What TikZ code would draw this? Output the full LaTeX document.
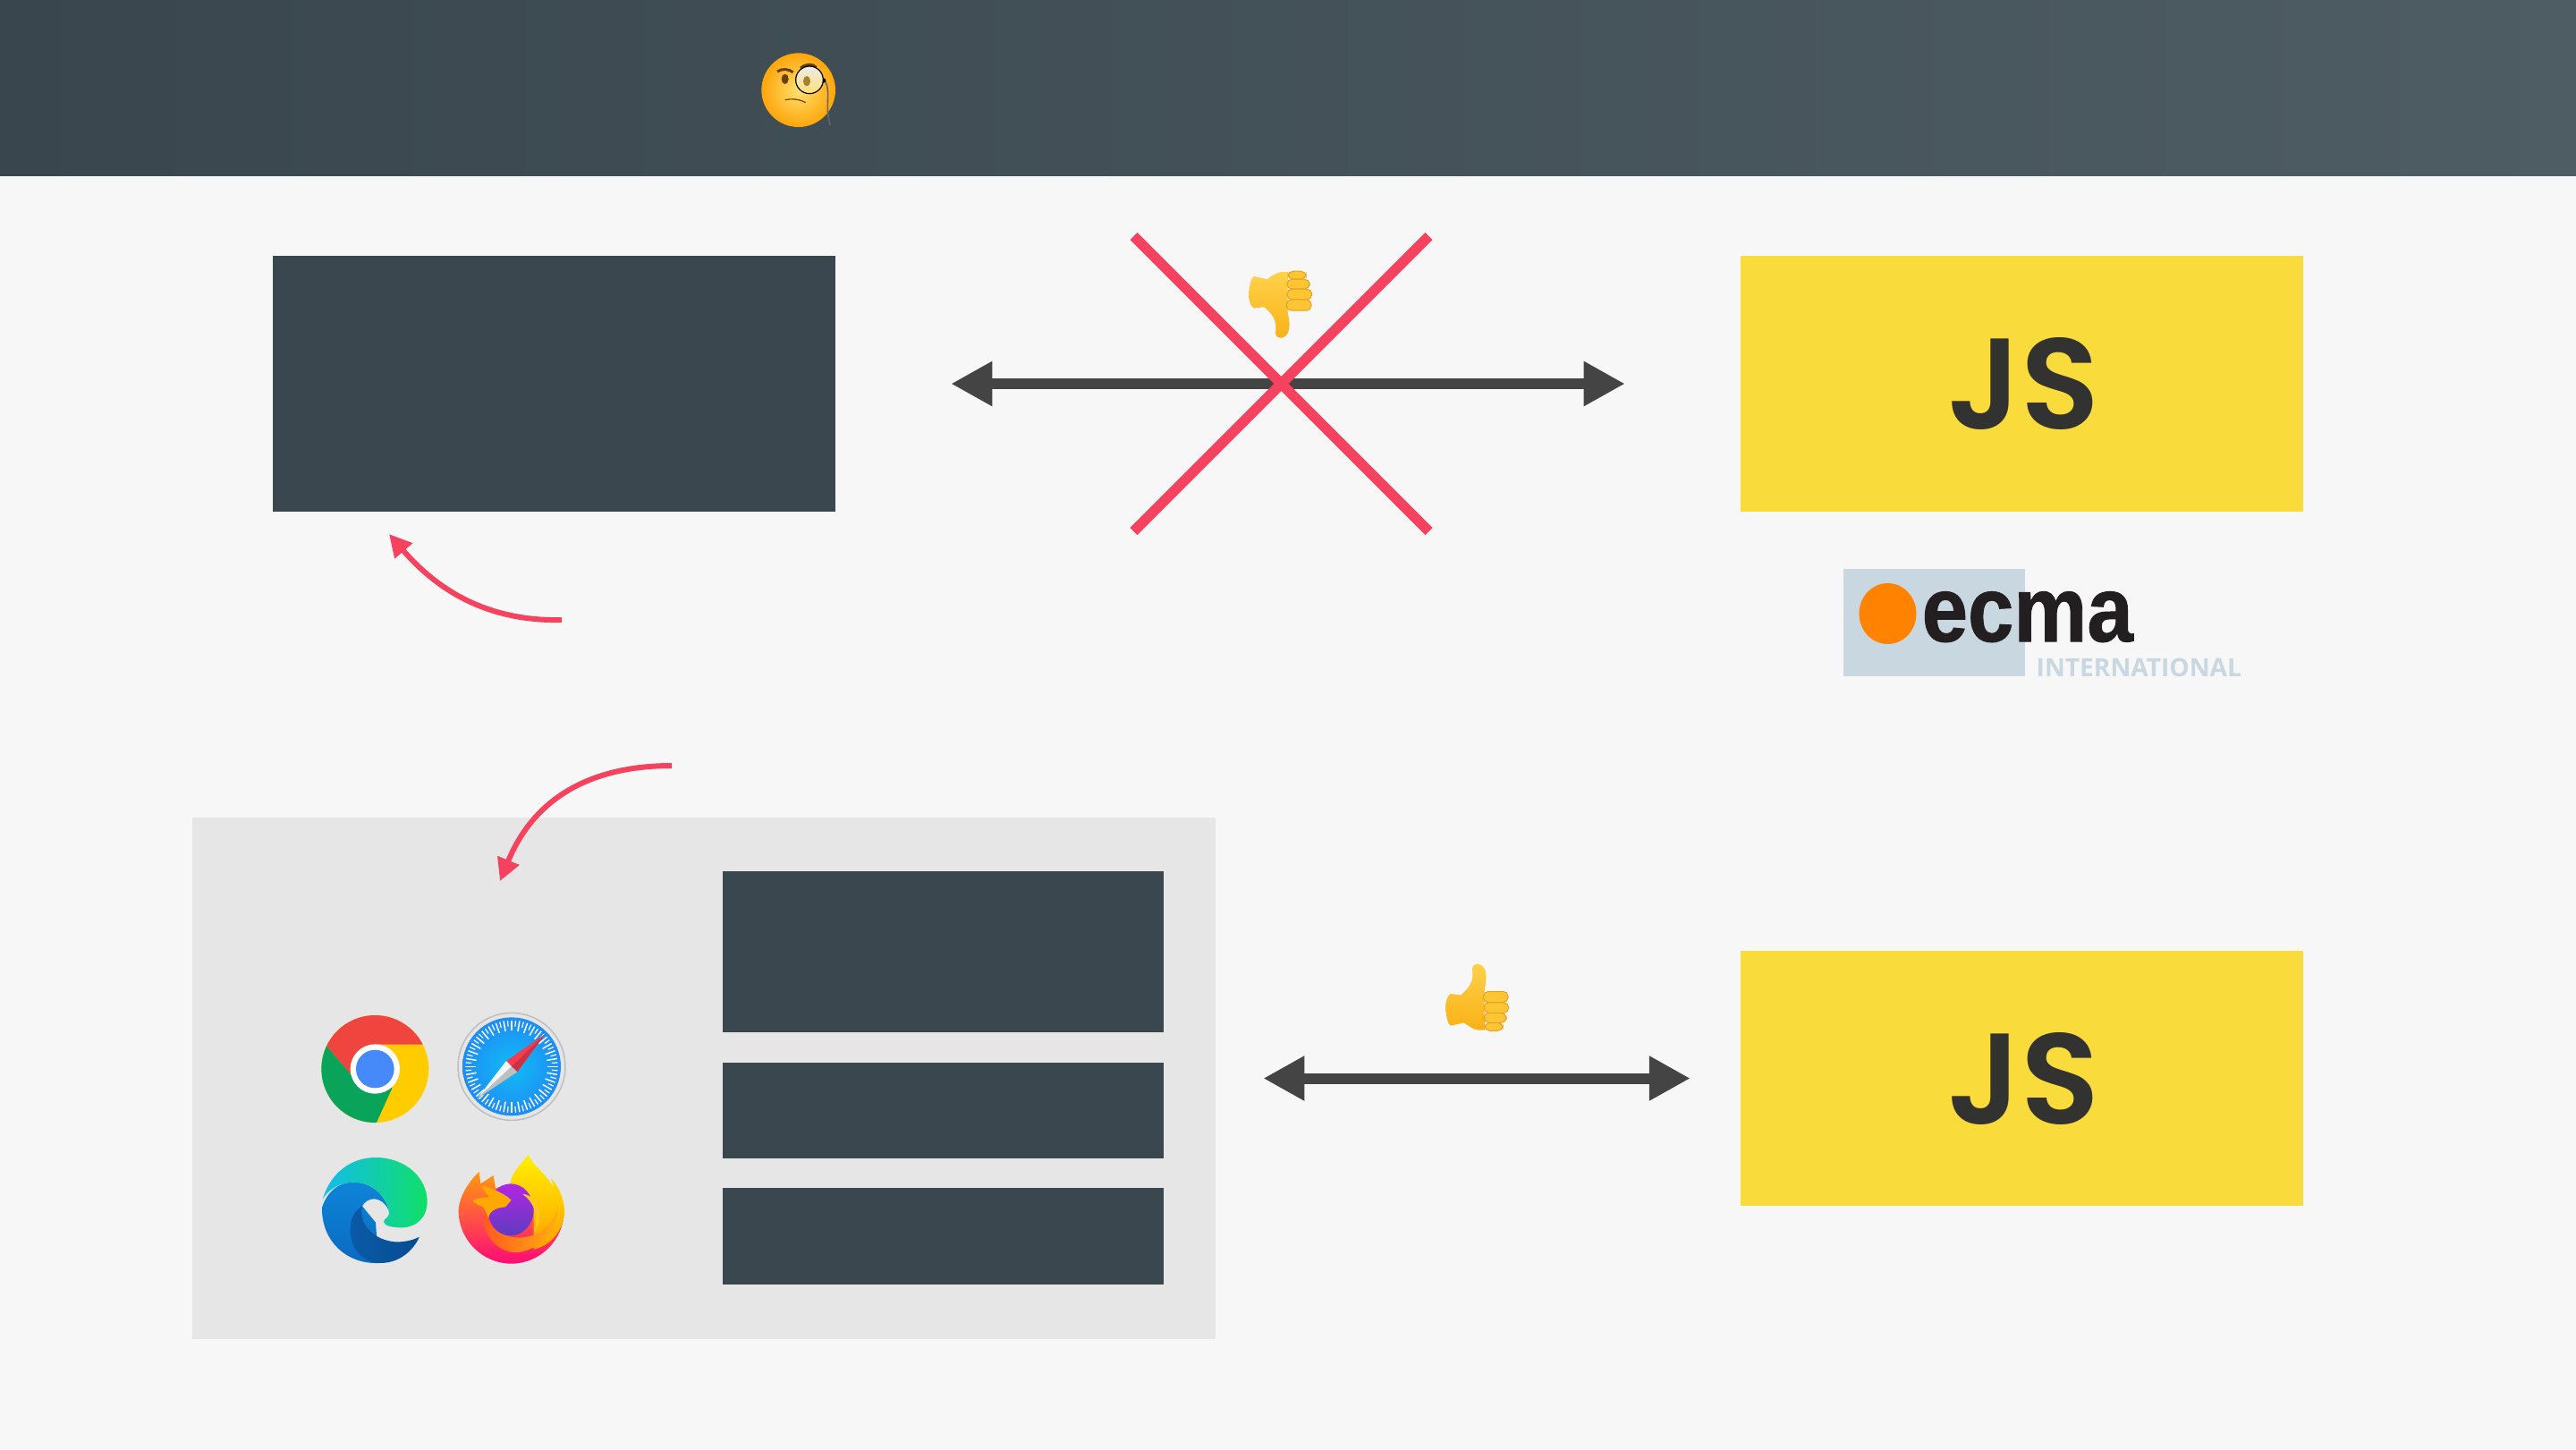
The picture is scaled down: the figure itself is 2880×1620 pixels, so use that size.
\documentclass[tikz,border=0pt]{standalone}
\usepackage{fontspec}
\usetikzlibrary{arrows.meta}
\newfontfamily\jsfont{Poppins SemiBold}
\newfontfamily\ecmafont[BoldFeatures={FakeBold=1}]{Liberation Sans}
\newfontfamily\intlfont{Open Sans}
\definecolor{pagebg}{HTML}{F7F7F7}
\definecolor{headleft}{HTML}{39464D}
\definecolor{headright}{HTML}{4E5C63}
\definecolor{boxdark}{HTML}{3A474E}
\definecolor{boxgrey}{HTML}{E6E6E6}
\definecolor{jsyellow}{HTML}{F9DC3C}
\definecolor{jsink}{HTML}{323330}
\definecolor{crossred}{HTML}{F5435F}
\definecolor{arrowdark}{HTML}{444444}
\definecolor{ecmablue}{HTML}{C8D7E0}
\definecolor{ecmaorange}{HTML}{FF8200}
\definecolor{ecmaink}{HTML}{231F20}
\definecolor{handlight}{HTML}{FFD24A}
\definecolor{handdeep}{HTML}{F9B116}
\definecolor{handfinger}{HTML}{FCC534}
\definecolor{handedge}{HTML}{E8A020}
\definecolor{facelight}{HTML}{FFE070}
\definecolor{facedeep}{HTML}{FFA60A}
\definecolor{browneye}{HTML}{6B3F00}
\definecolor{chromered}{HTML}{F0453F}
\definecolor{chromeyellow}{HTML}{FFCC00}
\definecolor{chromegreen}{HTML}{0AA35A}
\definecolor{chromeblue}{HTML}{4689F8}
\definecolor{safariin}{HTML}{11BCF5}
\definecolor{safariout}{HTML}{1E8CF5}
\definecolor{needlered}{HTML}{F23C50}
\definecolor{needledark}{HTML}{D2303F}
\definecolor{edgecyan}{HTML}{12BCEC}
\definecolor{edgegreen}{HTML}{10DF68}
\definecolor{edgeblue}{HTML}{0E84D8}
\definecolor{edgelow}{HTML}{0A6AC0}
\definecolor{edgedeep}{HTML}{0B5AA8}
\definecolor{edgedark}{HTML}{064C90}
\definecolor{foxtop}{HTML}{FF9A10}
\definecolor{foxmid}{HTML}{FF4A30}
\definecolor{foxlow}{HTML}{FF0A78}
\definecolor{flamehigh}{HTML}{FFF000}
\definecolor{flamelow}{HTML}{FFA000}
\definecolor{bandleft}{HTML}{FF5A20}
\definecolor{bandright}{HTML}{FFB010}
\definecolor{globetop}{HTML}{B226E4}
\definecolor{globemid}{HTML}{8A50F0}
\definecolor{globelow}{HTML}{5E3CC0}
\definecolor{curlyellow}{HTML}{FFC81E}
\definecolor{foxhead}{HTML}{FFA800}
\tikzset{
	darkbox/.style={fill=boxdark, inner sep=0, outer sep=0},
	jsbox/.style={fill=jsyellow, text=jsink, inner sep=0, outer sep=0, minimum width=6.29cm, minimum height=2.85cm, font=\jsfont\fontsize{41}{45}\selectfont},
	twoway/.style={draw=arrowdark, line width=.12cm, {Triangle[length=.46cm,width=.47cm]}-{Triangle[length=.46cm,width=.47cm]}},
	crossline/.style={draw=crossred, line width=.116cm},
	redcurve/.style={draw=crossred, line width=.06cm, -{Triangle[length=.25cm,width=.25cm]}},
	fingerbox/.style={draw=handedge, fill=handfinger, line width=.01cm, rounded corners=.055cm},
	hand/.pic={
		\path [shade, top color=handlight, bottom color=handdeep] ( 110, 235 ) .. controls ( 108, 205 ) and ( 115, 190 ) .. ( 125, 183 ) -- ( 160, 187 ) .. controls ( 185, 165 ) and ( 205, 145 ) .. ( 198, 100 ) .. controls ( 198, 78 ) and ( 235, 75 ) .. ( 243, 110 ) .. controls ( 248, 135 ) and ( 240, 160 ) .. ( 238, 178 ) -- ( 240, 305 ) -- ( 220, 305 ) .. controls ( 195, 300 ) and ( 185, 290 ) .. ( 170, 280 ) -- ( 125, 290 ) .. controls ( 115, 280 ) and ( 110, 260 ) .. cycle;
		\filldraw [fingerbox] ( 240, 280 ) rectangle ( 300, 307 );
		\filldraw [fingerbox] ( 237, 247 ) rectangle ( 312, 280 );
		\filldraw [fingerbox] ( 237, 212 ) rectangle ( 320, 247 );
		\filldraw [fingerbox] ( 235, 175 ) rectangle ( 318, 212 );
	}
}
\begin{document}
\begin{tikzpicture}[x=0.01cm, y=-0.01cm]
	\useasboundingbox ( 0, 0 ) rectangle ( 2880, 1620 );
	\fill [pagebg] ( 0, 0 ) rectangle ( 2880, 1620 );

	% header
	\path [shade, left color=headleft, right color=headright] ( 0, 0 ) rectangle ( 2880, 196 );

	% monocle face
	\begin{scope}[shift={( 780, 0 )}, scale=1/3]
		\path [shade, inner color=facelight, outer color=facedeep] ( 338, 302 ) circle [radius=124];
		\draw [draw=browneye, line width=.03cm] ( 267, 240 ) .. controls ( 285, 228 ) and ( 305, 232 ) .. ( 320, 242 );
		\draw [draw=browneye, line width=.03cm] ( 345, 228 ) .. controls ( 365, 213 ) and ( 385, 213 ) .. ( 398, 226 );
		\fill [browneye] ( 293, 265 ) ellipse [x radius=12, y radius=17];
		\draw [draw=browneye, line width=.012cm] ( 293, 335 ) .. controls ( 315, 330 ) and ( 340, 332 ) .. ( 362, 344 );
		\draw [draw=gray!80!black, line width=.016cm] ( 428, 272 ) .. controls ( 448, 310 ) and ( 425, 360 ) .. ( 445, 420 );
		\fill [black] ( 422, 270 ) circle [radius=8];
		\filldraw [draw=black, line width=.012cm, top color=white!85!gray, bottom color=facelight] ( 375, 268 ) circle [radius=46];
		\fill [browneye!60!facelight] ( 366, 272 ) ellipse [x radius=12, y radius=17];
	\end{scope}

	% upper row
	\node (upperbox) [darkbox, minimum width=6.29cm, minimum height=2.85cm] at ( 619.5, 429 ) {};
	\node (upperjs) [jsbox] at ( 2260.5, 429 ) {\hspace{.04cm}JS};
	\draw [twoway, shorten <=1.29cm, shorten >=1.29cm] (upperbox.east) -- (upperjs.west);

	% cross over the arrow
	\coordinate (crossa) at ( 1267.5, 264 );
	\coordinate (crossb) at ( 1597.5, 594 );
	\coordinate (crossc) at ( 1597.5, 264 );
	\coordinate (crossd) at ( 1267.5, 594 );
	\draw [crossline] (crossa) -- (crossb);
	\draw [crossline] (crossc) -- (crossd);
	\pic [yscale=-1/3, xscale=1/3] at ( 1360, 405.5 ) {hand};

	% ecma logo
	\fill [ecmablue] ( 2061, 636 ) rectangle ( 2264, 756 );
	\fill [ecmaorange] ( 2110.5, 686 ) ellipse [x radius=32, y radius=34];
	\node (ecmaword) [anchor=base west, inner sep=0, text=ecmaink, font=\ecmafont\bfseries\fontsize{35}{38}\selectfont] at ( 2148, 717 ) {\scalebox{.75}[.84]{ecma}};
	\node (ecmaintl) [anchor=base west, inner sep=0, text=ecmablue, font=\intlfont\bfseries\fontsize{8}{9}\selectfont] at ( 2276, 756 ) {INTERNATIONAL};

	% curved arrows
	\coordinate (curveastart) at ( 628, 693 );
	\coordinate (curveaend) at ( 435, 597 );
	\coordinate (curvebstart) at ( 751, 856 );
	\coordinate (curvebend) at ( 559, 985 );

	% lower panel
	\node (panel) [fill=boxgrey, inner sep=0, outer sep=0, minimum width=11.44cm, minimum height=5.83cm] at ( 787, 1205.5 ) {};
	\node (lowerboxa) [darkbox, minimum width=4.925cm, minimum height=1.79cm] at ( 1054.75, 1064 ) {};
	\node (lowerboxb) [darkbox, minimum width=4.925cm, minimum height=1.07cm] at ( 1054.75, 1241.5 ) {};
	\node (lowerboxc) [darkbox, minimum width=4.925cm, minimum height=1.08cm] at ( 1054.75, 1382 ) {};
	\node (lowerjs) [jsbox] at ( 2260.5, 1205.5 ) {\hspace{.04cm}JS};
	\draw [twoway, shorten <=.53cm, shorten >=.56cm] (panel.east) -- (lowerjs.west);
	\pic [scale=1/3] at ( 1580, 1050 ) {hand};

	\draw [redcurve] (curveastart) .. controls ( 540, 695 ) and ( 485, 655 ) .. (curveaend);
	\draw [redcurve] (curvebstart) .. controls ( 670, 856 ) and ( 600, 885 ) .. (curvebend);

	% browser logos
	\begin{scope}[shift={( 320, 1100 )}, scale=1/3]
		% chrome
		\begin{scope}[shift={( 298, 285 )}]
			\clip ( 0, 0 ) circle [radius=180];
			\fill [chromeyellow] ( -200, -200 ) rectangle ( 200, 200 );
			\fill [chromered] ( 210, -82 ) -- ( 0, -82 ) -- ( -80, 20 ) -- ( -210, -132 ) -- ( -210, -210 ) -- ( 210, -210 ) -- cycle;
			\fill [chromegreen] ( -80, 20 ) -- ( -210, -132 ) -- ( -210, 210 ) -- ( -9, 210 ) -- ( 57, 65 ) -- ( 0, 0 ) -- cycle;
			\fill [white] ( 0, 0 ) circle [radius=83];
			\fill [chromeblue] ( 0, 0 ) circle [radius=64];
		\end{scope}
		% safari
		\begin{scope}[shift={( 756, 277 )}]
			\filldraw [draw=gray!50, fill=gray!20, line width=.015cm] ( 0, 0 ) circle [radius=180];
			\path [shade, inner color=safariin, outer color=safariout] ( 0, 0 ) circle [radius=165];
			\foreach \tick in {0,10,...,350}
				\draw [white, line width=.015cm] ( \tick:120 ) -- ( \tick:155 );
			\foreach \tick in {5,15,...,355}
				\draw [white, line width=.012cm] ( \tick:135 ) -- ( \tick:155 );
			\fill [needlered] ( 112, -109 ) -- ( -18, -19 ) -- ( 0, 0 ) -- cycle;
			\fill [needledark] ( 112, -109 ) -- ( 19, 18 ) -- ( 0, 0 ) -- cycle;
			\fill [white!92!gray] ( -116, 108 ) -- ( -18, -19 ) -- ( 0, 0 ) -- cycle;
			\fill [gray!50] ( -116, 108 ) -- ( 19, 18 ) -- ( 0, 0 ) -- cycle;
		\end{scope}
		% edge
		\path [shade, top color=edgeblue, bottom color=edgelow] ( 120, 750 ) .. controls ( 118, 860 ) and ( 200, 940 ) .. ( 310, 936 ) -- ( 300, 800 ) -- ( 255, 745 ) .. controls ( 270, 715 ) and ( 320, 705 ) .. ( 345, 762 ) .. controls ( 330, 700 ) and ( 280, 665 ) .. ( 225, 665 ) .. controls ( 180, 665 ) and ( 140, 690 ) .. cycle;
		\path [shade, left color=edgedeep, right color=edgedark] ( 255, 745 ) .. controls ( 225, 765 ) and ( 215, 790 ) .. ( 215, 825 ) .. controls ( 215, 890 ) and ( 260, 936 ) .. ( 315, 936 ) .. controls ( 380, 936 ) and ( 425, 895 ) .. ( 447, 848 ) .. controls ( 420, 862 ) and ( 390, 866 ) .. ( 365, 865 ) .. controls ( 300, 860 ) and ( 240, 810 ) .. cycle;
		\path [shade, left color=edgecyan, right color=edgegreen] ( 122, 722 ) .. controls ( 150, 630 ) and ( 220, 582 ) .. ( 300, 582 ) .. controls ( 400, 582 ) and ( 473, 650 ) .. ( 473, 730 ) .. controls ( 473, 780 ) and ( 440, 817 ) .. ( 385, 817 ) .. controls ( 360, 817 ) and ( 327, 812 ) .. ( 327, 797 ) .. controls ( 327, 785 ) and ( 345, 790 ) .. ( 345, 762 ) .. controls ( 330, 700 ) and ( 280, 665 ) .. ( 225, 665 ) .. controls ( 180, 665 ) and ( 140, 690 ) .. cycle;
		% firefox
		\begin{scope}[shift={( 540, 540 )}]
			\path [shade, top color=foxtop, middle color=foxmid, bottom color=foxlow] ( 38, 220 ) .. controls ( 40, 170 ) and ( 75, 120 ) .. ( 107, 90 ) -- ( 112, 130 ) -- ( 155, 102 ) -- ( 162, 145 ) -- ( 212, 130 ) -- ( 360, 150 ) -- ( 392, 220 ) .. controls ( 392, 320 ) and ( 310, 398 ) .. ( 215, 398 ) .. controls ( 120, 398 ) and ( 38, 320 ) .. cycle;
			\path [shade, top color=flamehigh, bottom color=flamelow] ( 212, 130 ) .. controls ( 215, 90 ) and ( 250, 65 ) .. ( 272, 32 ) .. controls ( 285, 70 ) and ( 340, 100 ) .. ( 362, 155 ) -- ( 347, 110 ) .. controls ( 385, 150 ) and ( 398, 210 ) .. ( 392, 240 ) .. controls ( 380, 300 ) and ( 340, 340 ) .. ( 290, 350 ) -- ( 290, 220 ) -- cycle;
			\path [shade, left color=bandleft, right color=bandright] ( 132, 230 ) .. controls ( 135, 290 ) and ( 210, 325 ) .. ( 280, 305 ) .. controls ( 330, 290 ) and ( 365, 250 ) .. ( 372, 200 ) .. controls ( 375, 270 ) and ( 320, 350 ) .. ( 240, 360 ) .. controls ( 180, 365 ) and ( 135, 320 ) .. ( 120, 260 ) -- cycle;
			\path [shade, top color=globetop, middle color=globemid, bottom color=globelow] ( 213, 217 ) ellipse [x radius=77, y radius=87];
			\fill [curlyellow] ( 253, 165 ) .. controls ( 300, 165 ) and ( 335, 240 ) .. ( 290, 290 ) .. controls ( 310, 240 ) and ( 290, 190 ) .. cycle;
			\fill [foxhead] ( 85, 187 ) .. controls ( 100, 178 ) and ( 130, 175 ) .. ( 142, 175 ) .. controls ( 128, 160 ) and ( 118, 145 ) .. ( 118, 135 ) .. controls ( 160, 150 ) and ( 195, 165 ) .. ( 215, 185 ) -- ( 195, 208 ) .. controls ( 160, 210 ) and ( 140, 225 ) .. ( 138, 245 ) .. controls ( 130, 225 ) and ( 125, 215 ) .. ( 120, 207 ) .. controls ( 110, 205 ) and ( 95, 198 ) .. cycle;
		\end{scope}
	\end{scope}
\end{tikzpicture}
\end{document}
